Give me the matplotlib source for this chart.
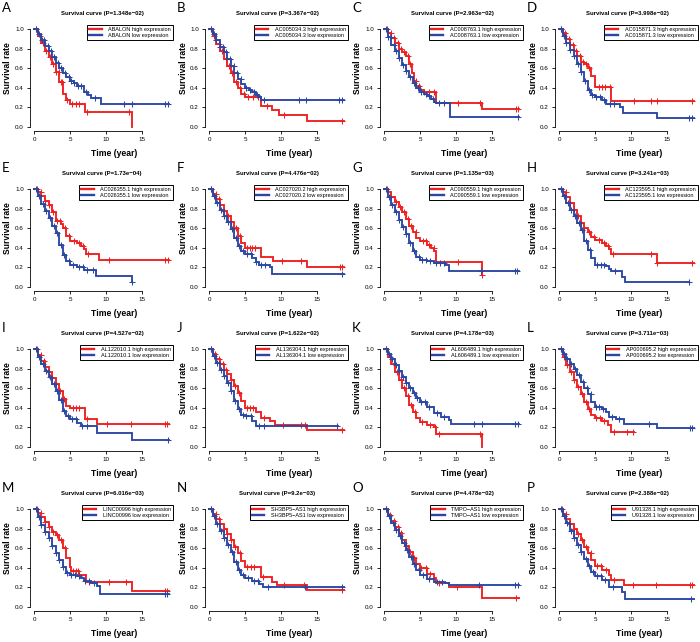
import numpy as np
import matplotlib
matplotlib.use('Agg')
import matplotlib.pyplot as plt

plt.rcParams['font.family'] = ['Liberation Sans', 'DejaVu Sans']

letters = list("ABCDEFGHIJKLMNOP")
genes = ["ABALON", "AC005034.3", "AC008763.1", "AC015871.3",
         "AC026355.1", "AC027020.2", "AC090559.1", "AC123595.1",
         "AL122010.1", "AL136304.1", "AL606489.1", "AP000695.2",
         "LINC00996", "SH3BP5\u2212AS1", "TMPO\u2212AS1", "U91328.1"]
pvals = ["1.348e\u221202", "3.367e\u221202", "2.963e\u221202", "3.998e\u221202",
         "1.73e\u221204", "4.476e\u221202", "1.135e\u221203", "3.241e\u221203",
         "4.527e\u221202", "1.622e\u221202", "4.178e\u221203", "3.711e\u221203",
         "6.016e\u221203", "9.2e\u221203", "4.478e\u221202", "2.388e\u221202"]

# (time, survival after the step)
high_steps = [
    [(0,1),(0.5,.93),(1,.86),(1.5,.78),(2,.71),(2.5,.64),(3,.56),(3.5,.46),(4,.34),(4.5,.28),(5,.24),(7.15,.15),(13.6,0)],  # A
    [(0,1),(0.5,.93),(1,.85),(1.5,.77),(2,.69),(2.5,.62),(3,.55),(3.5,.46),(4,.4),(4.5,.34),(5,.31),(7.3,.21),(8.8,.17),(9.7,.12),(13.6,.06),(18.8,.06)],  # B
    [(0,1),(0.5,.96),(1,.91),(1.5,.86),(2,.8),(2.5,.76),(3,.72),(3.5,.64),(3.9,.55),(4.1,.47),(4.5,.42),(5,.38),(5.5,.36),(7.3,.25),(13.6,.18),(18.8,.18)],  # C
    [(0,1),(0.5,.96),(1,.9),(1.5,.84),(2,.78),(2.5,.72),(3,.66),(3.5,.64),(4,.6),(4.5,.52),(5,.41),(7.3,.27),(18.8,.27)],  # D
    [(0,1),(0.5,.97),(1,.93),(1.5,.88),(2,.84),(2.5,.76),(3,.67),(3.7,.64),(4,.6),(4.5,.52),(5,.47),(6,.45),(6.5,.42),(7,.39),(7.2,.34),(9,.28),(18.8,.28)],  # E
    [(0,1),(0.5,.95),(1,.9),(1.5,.84),(2,.78),(2.5,.72),(3,.66),(3.5,.6),(4,.52),(4.5,.45),(5,.4),(7.2,.31),(8.9,.27),(13.6,.2),(18.8,.2)],  # F
    [(0,1),(0.5,.97),(1,.92),(1.5,.87),(2,.82),(2.5,.76),(3,.69),(3.5,.62),(4,.56),(4.5,.5),(5,.47),(6,.43),(6.5,.4),(7,.37),(7.2,.26),(13.6,.12),(13.7,.12)],  # G
    [(0,1),(0.5,.97),(1,.92),(1.5,.86),(2,.79),(2.5,.72),(3,.65),(3.5,.6),(4,.56),(4.5,.51),(5,.48),(6,.45),(6.5,.42),(7,.39),(7.2,.34),(13.6,.25),(18.8,.25)],  # H
    [(0,1),(0.5,.94),(1,.88),(1.5,.82),(2,.76),(2.5,.7),(3,.64),(3.5,.57),(4,.49),(4.5,.42),(5,.4),(7.1,.29),(8.8,.24),(18.8,.24)],  # I
    [(0,1),(0.5,.95),(1,.9),(1.5,.85),(2,.79),(2.5,.74),(3,.68),(3.5,.62),(4,.55),(4.5,.47),(5,.4),(6.6,.36),(7.3,.3),(8.5,.27),(9.2,.23),(13.6,.17),(18.8,.17)],  # J
    [(0,1),(0.5,.92),(1,.85),(1.5,.76),(2,.68),(2.5,.6),(3,.52),(3.5,.43),(4,.36),(4.5,.3),(5,.26),(6,.23),(7,.2),(7.3,.13),(13.6,0)],  # K
    [(0,1),(0.5,.92),(1,.84),(1.5,.76),(2,.68),(2.5,.61),(3,.54),(3.5,.46),(4,.39),(4.5,.33),(5,.3),(6,.27),(6.8,.22),(7.2,.15),(10.4,.15)],  # L
    [(0,1),(0.5,.96),(1,.92),(1.5,.87),(2,.82),(2.5,.77),(3,.73),(3.5,.68),(4,.6),(4.5,.5),(5,.41),(5.2,.37),(6.3,.33),(7.2,.26),(13.6,.16),(18.8,.16)],  # M
    [(0,1),(0.5,.95),(1,.9),(1.5,.85),(2,.8),(2.5,.74),(3,.68),(3.5,.61),(4,.55),(4.5,.47),(5,.41),(7.2,.31),(8.8,.26),(9.5,.22),(13.6,.17),(18.8,.17)],  # N
    [(0,1),(0.5,.94),(1,.88),(1.5,.82),(2,.75),(2.5,.68),(3,.62),(3.5,.56),(4,.5),(4.5,.44),(5,.4),(6,.34),(7,.3),(7.2,.25),(9,.2),(13.6,.09),(18.8,.09)],  # O
    [(0,1),(0.5,.95),(1,.9),(1.5,.85),(2,.8),(2.5,.74),(3,.68),(3.5,.61),(4,.55),(4.5,.48),(5,.42),(6,.38),(7,.33),(7.3,.28),(9,.22),(18.8,.22)],  # P
]
low_steps = [
    [(0,1),(0.5,.95),(1,.89),(1.5,.83),(2,.77),(2.5,.71),(3,.65),(3.5,.6),(4,.55),(4.5,.51),(5,.47),(5.5,.45),(6,.42),(7,.36),(7.5,.33),(8,.3),(9.3,.24),(18.8,.24)],  # A
    [(0,1),(0.5,.95),(1,.89),(1.5,.82),(2,.76),(2.5,.69),(3,.62),(3.5,.55),(4,.49),(4.5,.44),(5,.4),(5.5,.38),(6,.36),(6.5,.33),(7,.31),(7.3,.28),(18.8,.28)],  # B
    [(0,1),(0.5,.92),(1,.84),(1.5,.77),(2,.7),(2.5,.63),(3,.57),(3.5,.51),(4,.45),(4.5,.4),(5,.36),(5.5,.34),(6,.32),(6.5,.29),(7,.26),(7.3,.25),(9.2,.1),(18.8,.1)],  # C
    [(0,1),(0.5,.93),(1,.86),(1.5,.79),(2,.72),(2.5,.64),(3,.56),(3.5,.47),(4,.38),(4.5,.33),(5,.31),(6,.28),(6.5,.23),(8.5,.2),(8.9,.14),(13.6,.09),(18.8,.09)],  # D
    [(0,1),(0.5,.93),(1,.85),(1.5,.78),(2,.7),(2.5,.62),(3,.55),(3.5,.43),(4,.33),(4.5,.27),(5,.23),(6,.2),(7,.17),(8.7,.11),(13.6,.05),(13.7,.05)],  # E
    [(0,1),(0.5,.93),(1,.86),(1.5,.79),(2,.72),(2.5,.66),(3,.59),(3.5,.5),(4,.42),(4.5,.37),(5,.34),(6,.3),(6.5,.26),(7,.22),(8.5,.2),(8.8,.13),(18.8,.13)],  # F
    [(0,1),(0.5,.92),(1,.84),(1.5,.76),(2,.68),(2.5,.61),(3,.54),(3.5,.45),(4,.37),(4.5,.31),(5,.28),(6,.27),(7,.25),(8.5,.22),(9,.16),(18.8,.16)],  # G
    [(0,1),(0.5,.93),(1,.86),(1.5,.79),(2,.72),(2.5,.65),(3,.58),(3.5,.47),(4,.38),(4.5,.3),(5,.23),(6.5,.21),(7,.18),(7.3,.16),(8.8,.1),(9.2,.05),(18.2,.05)],  # H
    [(0,1),(0.5,.92),(1,.85),(1.5,.78),(2,.71),(2.5,.64),(3,.57),(3.5,.48),(4,.37),(4.5,.32),(5,.29),(6,.25),(6.5,.21),(8.8,.14),(13.6,.07),(18.8,.07)],  # I
    [(0,1),(0.5,.93),(1,.86),(1.5,.79),(2,.72),(2.5,.65),(3,.57),(3.5,.47),(4,.39),(4.5,.33),(5,.32),(6,.27),(6.5,.21),(18,.21)],  # J
    [(0,1),(0.5,.95),(1,.9),(1.5,.84),(2,.78),(2.5,.71),(3,.65),(3.5,.6),(4,.55),(4.5,.5),(5,.46),(6,.41),(7,.35),(8,.31),(9,.28),(9.3,.24),(18.8,.24)],  # K
    [(0,1),(0.5,.95),(1,.9),(1.5,.85),(2,.8),(2.5,.73),(3,.66),(3.5,.6),(4,.54),(4.5,.46),(5,.41),(6,.39),(6.5,.36),(7,.31),(8,.29),(9,.24),(13.6,.19),(18.8,.19)],  # L
    [(0,1),(0.5,.92),(1,.84),(1.5,.77),(2,.7),(2.5,.62),(3,.55),(3.5,.48),(4,.41),(4.5,.35),(5,.33),(6,.32),(6.5,.3),(7,.27),(8,.25),(8.8,.21),(9.2,.13),(18.8,.13)],  # M
    [(0,1),(0.5,.93),(1,.85),(1.5,.78),(2,.7),(2.5,.63),(3,.56),(3.5,.46),(4,.38),(4.5,.33),(5,.3),(6,.27),(7,.24),(7.5,.2),(18.8,.2)],  # N
    [(0,1),(0.5,.93),(1,.86),(1.5,.79),(2,.72),(2.5,.65),(3,.58),(3.5,.51),(4,.44),(4.5,.38),(5,.33),(6,.29),(7,.26),(8.5,.25),(9,.22),(18.8,.22)],  # O
    [(0,1),(0.5,.93),(1,.86),(1.5,.78),(2,.7),(2.5,.63),(3,.56),(3.5,.49),(4,.42),(4.5,.36),(5,.32),(6,.28),(7,.2),(8.8,.15),(9.2,.08),(18.8,.08)],  # P
]

# censoring marks (+), time only
high_cens = [
    [0.3,0.8,1.2,1.7,2.2,2.6,3.1,3.4,3.7,3.9,4.6,5.3,5.8,6.2,7.4,13.3],
    [0.2,0.7,1.3,1.8,2.3,2.7,3.2,3.8,4.3,4.8,5.4,6.1,6.8,8.1,10.5,18.6],
    [0.4,0.9,1.3,1.9,2.4,2.8,3.3,3.6,4.4,4.9,5.6,6.3,7.0,10.3,13.4,18.4,18.7],
    [0.3,0.8,1.4,1.9,2.4,2.9,3.3,3.7,4.2,5.6,6.0,6.4,7.1,10.4,12.8,13.6,18.6],
    [0.4,0.9,1.5,2.1,2.6,3.2,3.6,4.3,4.8,5.5,6.2,6.8,7.5,10.5,18.3,18.7],
    [0.3,0.9,1.4,2.0,2.6,3.1,3.7,4.3,5.3,5.7,6.0,6.4,10.2,12.8,18.3,18.6],
    [0.4,1.0,1.6,2.2,2.7,3.3,3.8,4.4,5.4,5.9,6.3,6.9,10.3,13.6],
    [0.3,0.9,1.5,2.0,2.6,3.1,3.5,4.2,4.8,5.6,6.2,6.8,7.5,12.8,13.7,18.6],
    [0.4,0.9,1.4,2.0,2.5,3.0,3.6,4.2,5.4,5.8,6.2,7.4,10.2,13.5,18.3,18.6],
    [0.3,0.8,1.4,1.9,2.4,3.0,3.6,4.2,5.3,5.7,6.1,7.6,10.3,12.8,13.4,18.6],
    [0.3,0.8,1.3,1.8,2.3,2.8,3.3,3.8,4.3,5.3,6.4,7.1,7.6,13.4],
    [0.3,0.7,1.1,1.6,2.1,2.6,3.2,3.7,4.2,5.2,5.7,6.3,7.6,9.5,10.3],
    [0.4,0.9,1.5,2.0,2.6,3.2,3.8,4.3,5.4,5.8,6.1,7.6,10.5,12.8,18.3,18.6],
    [0.3,0.9,1.4,2.0,2.5,3.1,3.6,4.3,5.3,5.8,6.3,7.5,10.4,13.3,18.5],
    [0.3,0.8,1.3,1.9,2.4,3.0,3.6,4.2,5.2,5.8,6.4,7.6,10.2,18.4],
    [0.4,0.9,1.5,2.0,2.6,3.2,3.8,4.4,5.3,5.9,6.5,7.7,10.3,13.5,18.3,18.6],
]
low_cens = [
    [0.2,0.6,1.1,1.4,1.9,2.3,2.8,3.3,3.8,4.3,4.8,5.2,5.6,6.1,6.6,7.2,8.5,12.5,13.6,18.3,18.7],
    [0.3,0.6,1.0,1.5,1.9,2.4,2.9,3.4,3.9,4.4,5.2,5.7,6.3,6.7,7.6,12.6,13.5,18.2,18.6],
    [0.2,0.5,0.9,1.3,1.7,2.1,2.6,3.1,3.6,4.2,4.7,5.2,5.8,6.2,6.8,7.6,8.4,18.7],
    [0.2,0.6,1.0,1.5,2.0,2.6,3.1,3.6,4.1,4.6,5.2,5.7,6.3,7.1,7.6,18.2,18.6],
    [0.2,0.7,1.2,1.7,2.2,2.7,3.2,3.7,4.2,4.8,5.4,6.2,6.8,7.4,8.2,13.7],
    [0.2,0.6,1.1,1.6,2.1,2.6,3.2,3.7,4.2,4.7,5.3,5.8,6.6,7.3,7.8,18.6],
    [0.2,0.6,1.1,1.6,2.1,2.6,3.1,3.6,4.2,4.8,5.3,5.8,6.4,7.3,7.8,8.3,13.5,18.3,18.6],
    [0.2,0.7,1.2,1.7,2.2,2.7,3.2,3.8,4.3,5.3,5.8,6.3,7.8,18.1],
    [0.2,0.7,1.2,1.7,2.2,2.7,3.2,3.7,4.2,4.7,5.3,5.8,6.7,7.4,18.7],
    [0.2,0.6,1.1,1.6,2.1,2.6,3.1,3.6,4.1,4.7,5.2,5.8,6.9,7.7,17.9],
    [0.2,0.6,1.1,1.6,2.1,2.6,3.1,3.6,4.1,4.6,5.2,5.7,6.2,7.4,8.4,12.5,13.6,18.3,18.7],
    [0.2,0.6,1.1,1.6,2.2,2.7,3.3,3.9,4.4,5.2,5.6,6.1,7.4,8.4,12.6,18.3,18.6],
    [0.2,0.6,1.0,1.5,2.0,2.5,3.0,3.5,4.0,4.6,5.2,5.7,6.2,7.1,7.6,8.4,18.3,18.6],
    [0.2,0.6,1.1,1.6,2.1,2.6,3.2,3.7,4.2,4.7,5.4,6.2,6.8,8.2,13.4,18.6],
    [0.2,0.7,1.2,1.7,2.2,2.7,3.2,3.7,4.2,4.8,5.4,6.2,7.4,8.1,13.3,18.3,18.7],
    [0.2,0.6,1.1,1.6,2.1,2.6,3.1,3.7,4.2,4.7,5.3,5.9,6.4,7.5,18.4],
]

RED = "#ee2020"
BLUE = "#2a47a3"
W, H = 700, 642

fig = plt.figure(figsize=(W / 100, H / 100), dpi=100)


def fx(px):
    return px / W


def fy(py):
    return 1 - py / H


def draw_curve(ax, steps, cens, color):
    t = np.array([p[0] for p in steps], dtype=float)
    s = np.array([p[1] for p in steps], dtype=float)
    ax.step(t, s, where="post", color=color, lw=1.35, solid_joinstyle="miter")
    c = np.array(cens, dtype=float)
    idx = np.searchsorted(t, c, side="right") - 1
    ax.plot(c, s[idx], ls="none", marker="+", ms=3.8, mew=0.75, color=color)


for i in range(16):
    r, col = divmod(i, 4)
    x0, y0 = 175 * col, 160 * r
    ax = fig.add_axes([fx(x0 + 30), fy(y0 + 131), fx(143), 106 / H])
    draw_curve(ax, high_steps[i], high_cens[i], RED)
    draw_curve(ax, low_steps[i], low_cens[i], BLUE)
    ax.set_xlim(-0.6, 19.4)
    ax.set_ylim(-0.04, 1.04)
    ax.set_xticks([0, 5, 10, 15])
    ax.set_yticks([0, 0.2, 0.4, 0.6, 0.8, 1.0])
    ax.set_yticklabels(["0.0", "0.2", "0.4", "0.6", "0.8", "1.0"])
    for sp in ["top", "right"]:
        ax.spines[sp].set_visible(False)
    ax.spines["left"].set_bounds(0, 1)
    ax.spines["bottom"].set_bounds(0, 15)
    for sp in ["left", "bottom"]:
        ax.spines[sp].set_linewidth(0.6)
    ax.tick_params(length=2.5, width=0.6, labelsize=4.5, pad=2)

    h1, = ax.plot([], [], color=RED, lw=1.7)
    h2, = ax.plot([], [], color=BLUE, lw=1.7)
    leg = ax.legend([h1, h2], [genes[i] + " high expression", genes[i] + " low expression"],
                    loc="upper right", bbox_to_anchor=(1.0, 1.0), borderaxespad=0,
                    fontsize=4.0, fancybox=False, framealpha=1, edgecolor="black",
                    handlelength=2.2, handletextpad=1.2, labelspacing=0.25,
                    borderpad=0.35)
    leg.get_frame().set_linewidth(0.7)

    fig.text(fx(x0 + 102), fy(y0 + 14), "Survival curve (P=" + pvals[i] + ")",
             ha="center", va="center", fontsize=4.3, fontweight="bold")
    fig.text(fx(x0 + 114), fy(y0 + 154), "Time (year)",
             ha="center", va="center", fontsize=6.2, fontweight="bold")
    fig.text(fx(x0 + 8), fy(y0 + 68), "Survival rate", rotation=90,
             ha="center", va="center", fontsize=6.2, fontweight="bold")
    fig.text(fx(x0 + 2), fy(y0 + 2), letters[i], ha="left", va="top",
             fontsize=9.5, family=["Lato", "DejaVu Sans"])

fig.savefig("out.png", dpi=100)
